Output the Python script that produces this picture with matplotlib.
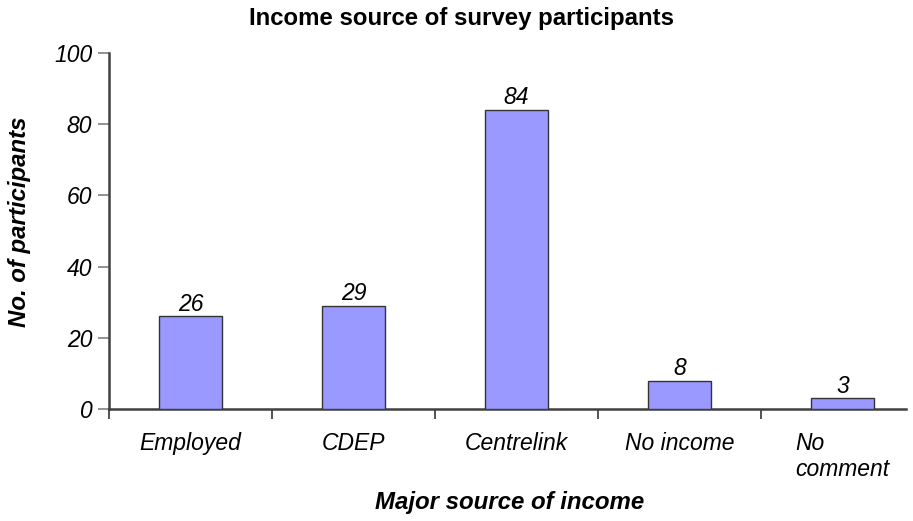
import numpy as np
import matplotlib.pyplot as plt

plt.rcParams['font.family'] = ['Liberation Sans', 'DejaVu Sans']

# Datos
categorias = ['Employed', 'CDEP', 'Centrelink', 'No income', 'No\ncomment']
participantes = [26, 29, 84, 8, 3]

fig = plt.figure(figsize=(9.13, 5.21), dpi=100)
# el eje x se corta antes de terminar la última categoría
ax = fig.add_axes([109 / 913, 1 - 409 / 521, 797 / 913, 356 / 521])

x = np.arange(len(categorias))
ax.bar(x, participantes, width=0.39, color='#9999FF',
       edgecolor='#333333', linewidth=1.0, zorder=3)

# Etiquetas de valor encima de cada barra
for xi, v in zip(x, participantes):
    ax.text(xi, v + 1.6, str(v), ha='center', va='baseline',
            fontsize=16.5, style='italic')

ax.set_xlim(-0.5, -0.5 + 797 / 163)
ax.set_ylim(0, 100)
ax.set_yticks(np.arange(0, 101, 20))
ax.tick_params(axis='y', labelsize=16.5, length=8, width=1.2,
               color='#808080', pad=4)
for lab in ax.get_yticklabels():
    lab.set_style('italic')

# Ticks del eje x entre categorías
ax.set_xticks(np.arange(-0.5, len(categorias) - 0.5, 1.0))
ax.set_xticklabels([])
ax.tick_params(axis='x', direction='out', length=7, width=1.2,
               color='#333333')

for xi, cat in zip(x, categorias):
    ax.text(xi, -6.5, cat, ha='center', va='top', fontsize=16.5,
            style='italic', multialignment='left', linespacing=1.15)

for s in ['top', 'right']:
    ax.spines[s].set_visible(False)
for s in ['left', 'bottom']:
    ax.spines[s].set_color('#404040')
    ax.spines[s].set_linewidth(1.8)

fig.text(461 / 913, 1 - 18 / 521, 'Income source of survey participants',
         ha='center', va='center', fontsize=17.3, fontweight='bold')
fig.text(20 / 913, 1 - 222 / 521, 'No. of participants', rotation=90,
         ha='center', va='center', fontsize=17.3, fontweight='bold',
         style='italic')
fig.text(510 / 913, 1 - 503 / 521, 'Major source of income',
         ha='center', va='center', fontsize=17.3, fontweight='bold',
         style='italic')

fig.savefig('out.png', dpi=100)
